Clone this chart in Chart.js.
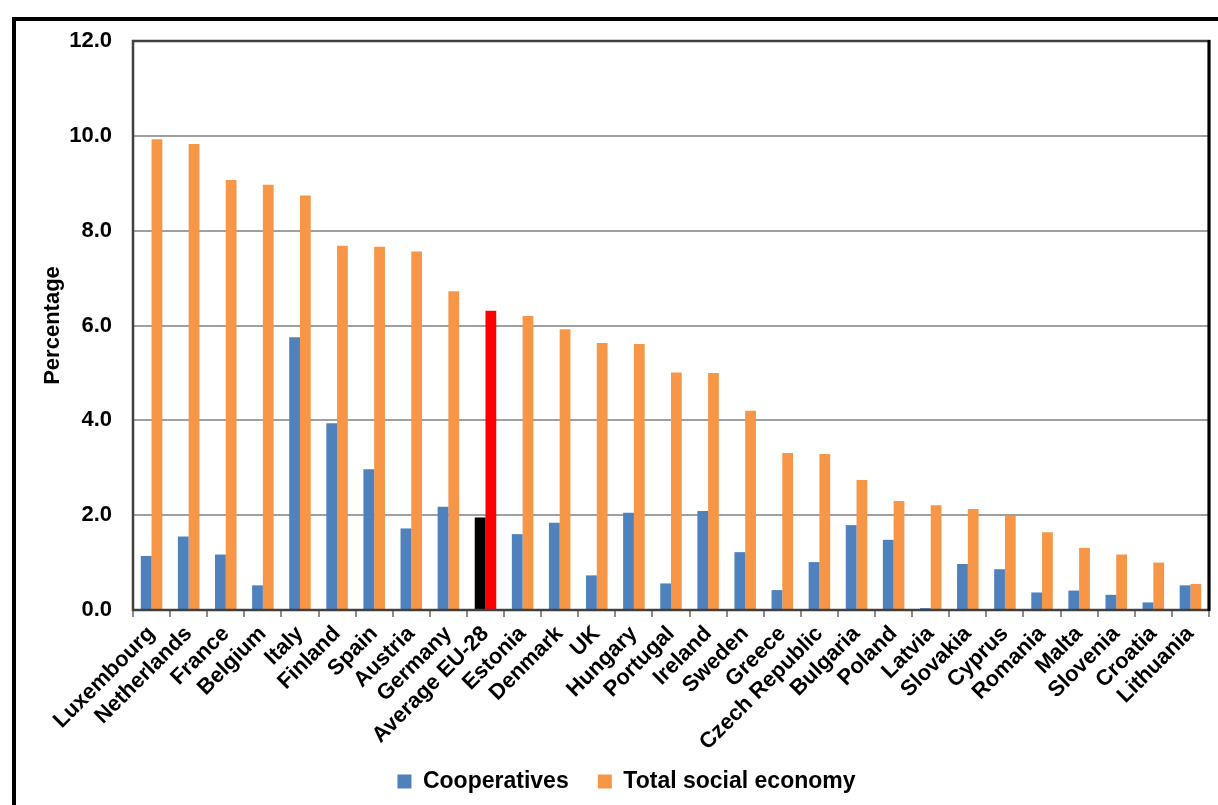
<!DOCTYPE html>
<html>
<head>
<meta charset="utf-8">
<script src="https://cdn.jsdelivr.net/npm/chart.js@4/dist/chart.umd.min.js"></script>
<style>
  html, body { margin: 0; padding: 0; background: #fff; overflow: hidden; }
  #wrap { position: relative; width: 1218px; height: 805px; }
  #frame {
    position: absolute; left: 12px; top: 17px; width: 1240px; height: 830px;
    border: 4px solid #000; box-sizing: border-box;
  }
  #chart { position: absolute; left: 0; top: 0; }
</style>
</head>
<body>
<div id="wrap">
  <div id="frame"></div>
  <canvas id="chart" width="1218" height="805"></canvas>
</div>
<script>
const countries = [
  "Luxembourg", "Netherlands", "France", "Belgium", "Italy", "Finland", "Spain",
  "Austria", "Germany", "Average EU-28", "Estonia", "Denmark", "UK", "Hungary",
  "Portugal", "Ireland", "Sweden", "Greece", "Czech Republic", "Bulgaria", "Poland",
  "Latvia", "Slovakia", "Cyprus", "Romania", "Malta", "Slovenia", "Croatia", "Lithuania"
];
const cooperatives = [
  1.14, 1.55, 1.17, 0.52, 5.75, 3.94, 2.97,
  1.72, 2.18, 1.95, 1.60, 1.84, 0.73, 2.05,
  0.56, 2.09, 1.22, 0.42, 1.01, 1.79, 1.48,
  0.04, 0.97, 0.86, 0.37, 0.41, 0.32, 0.16, 0.52
];
const totalSocial = [
  9.93, 9.83, 9.07, 8.97, 8.74, 7.68, 7.66,
  7.56, 6.72, 6.31, 6.20, 5.92, 5.63, 5.61,
  5.01, 5.00, 4.20, 3.31, 3.29, 2.74, 2.30,
  2.21, 2.13, 1.98, 1.64, 1.31, 1.17, 1.00, 0.55
];
const yTicks = [0, 2, 4, 6, 8, 10, 12];
const averageLabel = "Average EU-28";

(function () {
  const BLUE = "#4f81bd";
  const ORANGE = "#f79646";
  const FONT = "'Liberation Sans', Arial, sans-serif";

  const coopColors = countries.map((c) => (c === averageLabel ? "#000000" : BLUE));
  const totalColors = countries.map((c) => (c === averageLabel ? "#ff0000" : ORANGE));

  const plotFrame = {
    id: "plotFrame",
    afterLayout(chart) {
      // nudge the legend row a little to the right, like the original
      if (chart.legend) {
        chart.legend.left += 14;
        chart.legend.right += 14;
      }
    },
    afterDatasetsDraw(chart) {
      const { ctx, chartArea: a } = chart;
      ctx.save();
      ctx.strokeStyle = "#404040";
      ctx.lineWidth = 2.5;
      ctx.strokeRect(a.left, a.top, a.right - a.left, a.bottom - a.top);
      ctx.strokeStyle = "#000";
      ctx.lineWidth = 3;
      ctx.beginPath();
      ctx.moveTo(a.right, a.top - 1);
      ctx.lineTo(a.right, a.bottom + 1);
      ctx.stroke();
      ctx.restore();
    }
  };

  new Chart(document.getElementById("chart"), {
    type: "bar",
    data: {
      labels: countries,
      datasets: [
        {
          label: "Cooperatives",
          data: cooperatives,
          backgroundColor: coopColors,
          categoryPercentage: 0.58,
          barPercentage: 1.0
        },
        {
          label: "Total social economy",
          data: totalSocial,
          backgroundColor: totalColors,
          categoryPercentage: 0.58,
          barPercentage: 1.0
        }
      ]
    },
    options: {
      responsive: false,
      animation: false,
      layout: { padding: { left: 16, top: 41, right: 9, bottom: 2 } },
      plugins: {
        tooltip: { enabled: false },
        legend: {
          position: "bottom",
          labels: {
            color: "#000",
            font: { family: FONT, size: 23, weight: "bold" },
            boxWidth: 14,
            boxHeight: 14,
            padding: 10,
            // trailing spaces widen the gap between the two entries
            generateLabels: () => [
              { text: "Cooperatives   ", fillStyle: BLUE, strokeStyle: BLUE, lineWidth: 0, datasetIndex: 0 },
              { text: "Total social economy", fillStyle: ORANGE, strokeStyle: ORANGE, lineWidth: 0, datasetIndex: 1 }
            ]
          }
        }
      },
      scales: {
        x: {
          afterFit: (scale) => { scale.height = 150; },
          grid: {
            drawOnChartArea: false,
            drawTicks: true,
            tickLength: 7,
            color: "#8c8c8c",
            lineWidth: 2
          },
          border: { color: "#404040", width: 2 },
          ticks: {
            color: "#000",
            font: { family: FONT, size: 22, weight: "bold" },
            minRotation: 45,
            maxRotation: 45,
            autoSkip: false,
            padding: 4
          }
        },
        y: {
          min: 0,
          max: 12,
          afterFit: (scale) => { scale.width = 117; },
          afterBuildTicks: (scale) => { scale.ticks = yTicks.map((v) => ({ value: v })); },
          grid: { color: "#a0a0a0", lineWidth: 2, drawTicks: false },
          border: { color: "#404040", width: 2 },
          ticks: {
            color: "#000",
            font: { family: FONT, size: 22, weight: "bold" },
            padding: 21,
            callback: (v) => Number(v).toFixed(1)
          },
          title: {
            display: true,
            text: "Percentage",
            color: "#000",
            font: { family: FONT, size: 22, weight: "bold" },
            padding: { top: 24, bottom: 0 }
          }
        }
      }
    },
    plugins: [plotFrame]
  });
})();
</script>
</body>
</html>
